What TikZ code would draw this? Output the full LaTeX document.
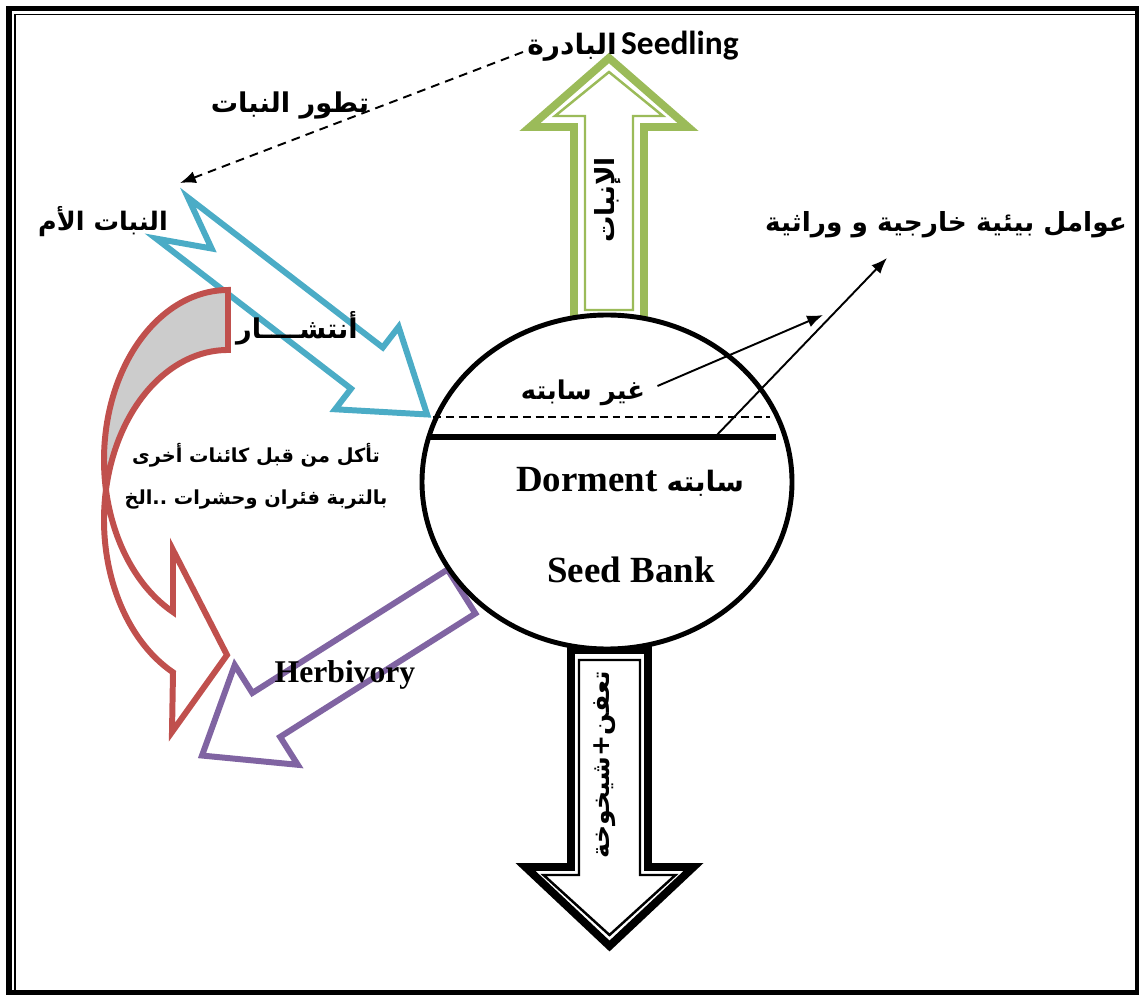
\documentclass[tikz,border=0pt]{standalone}
\usepackage{fontspec}
\setmainfont{Liberation Serif}
\newfontfamily\arabicfont[Script=Arabic]{DejaVu Sans}
\newfontfamily\calfont{Carlito}
\TeXXeTstate=1
\usetikzlibrary{arrows.meta}
\definecolor{aqua}{HTML}{4BACC6}
\definecolor{brick}{HTML}{C0504D}
\definecolor{violet}{HTML}{8064A2}
\definecolor{sprout}{HTML}{9BBB59}
\definecolor{shade}{HTML}{CCCCCC}
\tikzset{
    artext/.style={inner sep=0pt, font=\arabicfont\bfseries\fontsize{#1}{24}\selectfont},
    artext/.default=16,
    entext/.style={inner sep=0pt, font=\bfseries\fontsize{#1}{24}\selectfont},
    pointer/.style={line width=1.1pt, ->},
}
\begin{document}
\begin{tikzpicture}[x=0.02cm, y=0.02cm, >={Latex[length=9pt,width=7pt]}, line join=miter]
    \useasboundingbox (0,0) rectangle (1139,-996);
    % frame
    \draw [line width=3.4pt] (9,-8.5) rectangle (1137.5,-992.5);
    \draw [line width=1.1pt] (15,-990) -- (15,-14.5) -- (1136,-14.5);

    % germination (up)
    \begin{scope}[shift={(609,-322)}, rotate=90, color=sprout]
        \draw [line width=4.5pt, fill=white]
            (0,35) -- (195,35) -- (195,79) -- (264,0) -- (195,-79) -- (195,-35) -- (0,-35) -- cycle;
        \draw [line width=1.4pt]
            (12,24) -- (206,24) -- (206,54) -- (250,0) -- (206,-54) -- (206,-24) -- (12,-24) -- cycle;
    \end{scope}

    % decay (down)
    \begin{scope}[shift={(609.5,-650)}, rotate=-90]
        \draw [line width=4.5pt, fill=white]
            (0,38.5) -- (217,38.5) -- (217,84) -- (296,0) -- (217,-84) -- (217,-38.5) -- (0,-38.5) -- cycle;
        \draw [line width=1.4pt]
            (10,30.5) -- (225,30.5) -- (225,66) -- (285,0) -- (225,-66) -- (225,-30.5) -- (10,-30.5) -- cycle;
    \end{scope}

    % dispersal
    \begin{scope}[shift={(172,-218)}, rotate=-37.6, color=aqua]
        \draw [line width=3.4pt, fill=white]
            (0,26) -- (246,26) -- (246,52) -- (322,0) -- (246,-52) -- (246,-26) -- (0,-26) -- (50,0) -- cycle;
    \end{scope}

    % herbivory
    \begin{scope}[shift={(461.5,-591.5)}, rotate=212.3, color=violet]
        \draw [line width=3.4pt, fill=white]
            (0,26) -- (231,26) -- (231,59) -- (307,0) -- (231,-59) -- (231,-26) -- (0,-26) -- cycle;
    \end{scope}

    % eaten (curved)
    \begin{scope}[color=brick, line width=3.4pt]
        \draw [fill=shade] (228,-290)
            arc [start angle=90, end angle=190.16, x radius=124, y radius=170]
            arc [start angle=169.84, end angle=90, x radius=124, y radius=170] -- cycle;
        \draw [fill=white] (105.95,-490)
            arc [start angle=169.84, end angle=243.67, x radius=124, y radius=170]
            -- (172,-732) -- (227,-655) -- (173,-550) -- (173,-612)
            arc [start angle=243.67, end angle=190.16, x radius=124, y radius=170] -- cycle;
    \end{scope}

    % seed bank
    \draw [line width=2.8pt, fill=white] (607,-482) ellipse [x radius=185, y radius=167];
    \draw [line width=1.1pt, dash pattern=on 4.5pt off 2.8pt] (433,-417) -- (770,-417);
    \draw [line width=3.4pt] (428,-437) -- (776,-437);

    % labels
    \node [inner sep=0pt, font=\bfseries] (seedling) at (633,-46)
        {{\arabicfont\fontsize{16}{24}\selectfont\beginR البادرة\endR} {\calfont\fontsize{19}{24}\selectfont Seedling}};
    \node [artext=15.5] (devtext) at (290,-105) {\beginR تطور النبات\endR};
    \node [artext=14.5] (parent) at (103,-222) {\beginR النبات الأم\endR};
    \node [artext=15.5] (spread) at (297,-328) {\beginR أنتشــــار\endR};
    \node [artext=11, align=center] (eaten) at (256,-476)
        {\beginR تأكل من قبل كائنات أخرى\endR\\\beginR بالتربة فئران وحشرات ..الخ\endR};
    \node [entext=18] (herbiv) at (345,-675) {Herbivory};
    \node [artext=14.7] (nondorm) at (583,-393) {\beginR غير سابته\endR};
    \node [entext=21] (dorm) at (630,-482)
        {Dorment {\arabicfont\fontsize{16}{24}\selectfont\beginR سابته\endR}};
    \node [entext=21] (seedbank) at (631,-570) {Seed Bank};
    \node [artext=15] (factors) at (946,-225) {\beginR عوامل بيئية خارجية و وراثية\endR};
    \node [artext=15, rotate=90] (germ) at (608,-200) {\beginR الإنبات\endR};
    \node [artext=14.3, rotate=90] (decay) at (605,-765) {\beginR تعفن+شيخوخة\endR};

    % connectors
    \coordinate (devend) at (180,-183);
    \coordinate (fa) at (823,-315);
    \coordinate (fb) at (887,-258);
    \coordinate (cut) at (715,-437);
    \draw [pointer, dash pattern=on 5pt off 3.5pt] ([shift={(-4,-6)}]seedling.west) -- (devend);
    \draw [pointer] ([shift={(12,7)}]nondorm.east) -- (fa);
    \draw [pointer] (cut) -- (fb);
\end{tikzpicture}
\end{document}
